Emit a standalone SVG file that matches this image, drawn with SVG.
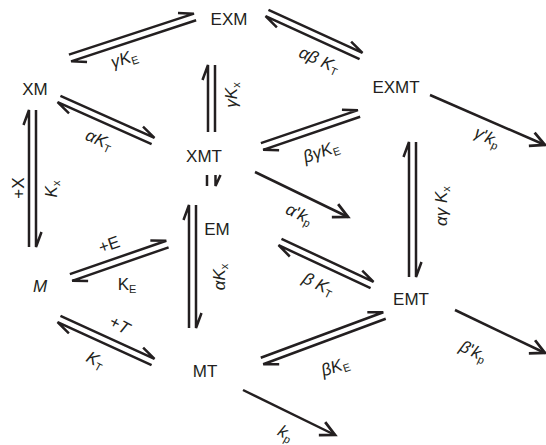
<svg xmlns="http://www.w3.org/2000/svg" width="546" height="445" viewBox="0 0 546 445">
<style>
  .node{font-family:"Liberation Sans",Arial,sans-serif;font-size:17px;fill:#231f20;text-anchor:middle}
  .lbl{font-family:"Liberation Sans",Arial,sans-serif;font-size:17px;fill:#231f20;text-anchor:middle}
  .it{font-style:italic}
  .sub{font-size:11px}
  .c path{fill:none;stroke:#231f20;stroke-width:2.5;stroke-linecap:butt;stroke-linejoin:miter}
</style>
<defs>
  <marker id="open" markerUnits="userSpaceOnUse" markerWidth="20" markerHeight="20" viewBox="-16 -9 18 18" refX="0" refY="0" orient="auto" overflow="visible">
    <path d="M-13,-6.5 L0,0 L-13,6.5" fill="none" stroke="#231f20" stroke-width="2.5"/>
  </marker>
</defs>
<rect width="546" height="445" fill="#fff"/>

<g id="connectors" class="c">
  <g transform="translate(70,58) rotate(-18.16)"><path d="M0,-3.5 H131.6 l-15,-5.5"/><path d="M131.6,3.5 H0 l15,5.5"/></g>
  <g transform="translate(267,13) rotate(24.58)"><path d="M0,-3.5 H103.4 l-15,-5.5"/><path d="M103.4,3.5 H0 l15,5.5"/></g>
  <g transform="translate(59,99) rotate(24.08)"><path d="M0,-3.5 H103 l-15,-5.5"/><path d="M103,3.5 H0 l15,5.5"/></g>
  <g transform="translate(262,146.5) rotate(-18.8)"><path d="M0,-3.5 H102.5 l-15,-5.5"/><path d="M102.5,3.5 H0 l15,5.5"/></g>
  <g transform="translate(211.5,132) rotate(-90)"><path d="M0,-3.5 H67 l-15,-5.5"/><path d="M67,3.5 H0"/></g>
  <path d="M207,175 V186"/><path d="M215.5,175 V186 L220.5,175"/>
  <g transform="translate(32.5,247) rotate(-90)"><path d="M0,-3.5 H137 l-15,-5.5"/><path d="M137,3.5 H0 l15,5.5"/></g>
  <g transform="translate(71,277.5) rotate(-19.14)"><path d="M0,-3.5 H102.1 l-15,-5.5"/><path d="M102.1,3.5 H0 l15,5.5"/></g>
  <g transform="translate(192.5,328) rotate(-90)"><path d="M0,-3.5 H123 l-15,-5.5"/><path d="M123,3.5 H0 l15,5.5"/></g>
  <g transform="translate(59,319) rotate(24.58)"><path d="M0,-3.5 H103.4 l-15,-5.5"/><path d="M103.4,3.5 H0 l15,5.5"/></g>
  <g transform="translate(262,361) rotate(-20.38)"><path d="M0,-3.5 H130.7 l-15,-5.5"/><path d="M130.7,3.5 H0 l15,5.5"/></g>
  <g transform="translate(280,242) rotate(25.05)"><path d="M0,-3.5 H101.6 l-15,-5.5"/><path d="M101.6,3.5 H0 l15,5.5"/></g>
  <g transform="translate(412.5,277) rotate(-90)"><path d="M0,-3.5 H135 l-15,-5.5"/><path d="M135,3.5 H0 l15,5.5"/></g>
  <path d="M430,95 L545,145" marker-end="url(#open)"/>
  <path d="M255,172 L348,217" marker-end="url(#open)"/>
  <path d="M455,310 L545,353" marker-end="url(#open)"/>
  <path d="M243,390 L335,435" marker-end="url(#open)"/>
</g>

<g id="EXM"><text class="node" x="229" y="25">EXM</text></g>
<g id="XM"><text class="node" x="35" y="95">XM</text></g>
<g id="XMT"><text class="node" x="204" y="162">XMT</text></g>
<g id="EXMT"><text class="node" x="396" y="93">EXMT</text></g>
<g id="EM"><text class="node" x="217" y="235">EM</text></g>
<g id="M"><text class="node it" x="40" y="292">M</text></g>
<g id="MT"><text class="node" x="205" y="377">MT</text></g>
<g id="EMT"><text class="node" x="411" y="305">EMT</text></g>

<g id="labels">
  <text class="lbl" transform="translate(126,64) rotate(-18)"><tspan class="it">γK</tspan><tspan class="sub" dy="3">E</tspan></text>
  <text class="lbl" transform="translate(317,65) rotate(24)"><tspan class="it">αβ K</tspan><tspan class="sub" dy="3">T</tspan></text>
  <text class="lbl" transform="translate(97,145) rotate(24)"><tspan class="it">αK</tspan><tspan class="sub" dy="3">T</tspan></text>
  <text class="lbl" transform="translate(237,95) rotate(-90)"><tspan class="it">γK</tspan><tspan class="sub" dy="3">x</tspan></text>
  <text class="lbl" transform="translate(323,157) rotate(-19)"><tspan class="it">βγK</tspan><tspan class="sub" dy="3">E</tspan></text>
  <text class="lbl" transform="translate(24,188) rotate(-90)">+X</text>
  <text class="lbl" transform="translate(57,189) rotate(-90)"><tspan class="it">K</tspan><tspan class="sub" dy="3">x</tspan></text>
  <text class="lbl" transform="translate(111,250) rotate(-19)">+E</text>
  <text class="lbl" x="127" y="290">K<tspan class="sub" dy="3">E</tspan></text>
  <text class="lbl" transform="translate(225,277) rotate(-90)"><tspan class="it">αK</tspan><tspan class="sub" dy="3">x</tspan></text>
  <text class="lbl" transform="translate(297,219) rotate(26)"><tspan class="it">α</tspan>'<tspan class="it">k</tspan><tspan class="sub" dy="3">p</tspan></text>
  <text class="lbl" transform="translate(316,289) rotate(26)"><tspan class="it">β K</tspan><tspan class="sub" dy="3">T</tspan></text>
  <text class="lbl" transform="translate(447,206) rotate(-90)"><tspan class="it">αγ K</tspan><tspan class="sub" dy="3">x</tspan></text>
  <text class="lbl" transform="translate(485,142) rotate(25)"><tspan class="it">γ</tspan>'<tspan class="it">k</tspan><tspan class="sub" dy="3">p</tspan></text>
  <text class="lbl" transform="translate(117,330) rotate(28)">+<tspan class="it">T</tspan></text>
  <text class="lbl" transform="translate(93,365) rotate(28)"><tspan class="it">K</tspan><tspan class="sub" dy="3">T</tspan></text>
  <text class="lbl" transform="translate(337,372) rotate(-19)"><tspan class="it">βK</tspan><tspan class="sub" dy="3">E</tspan></text>
  <text class="lbl" transform="translate(471,356) rotate(25)"><tspan class="it">β</tspan>'<tspan class="it">k</tspan><tspan class="sub" dy="3">p</tspan></text>
  <text class="lbl" transform="translate(283,438) rotate(28)"><tspan class="it">k</tspan><tspan class="sub" dy="3">p</tspan></text>
</g>
</svg>
